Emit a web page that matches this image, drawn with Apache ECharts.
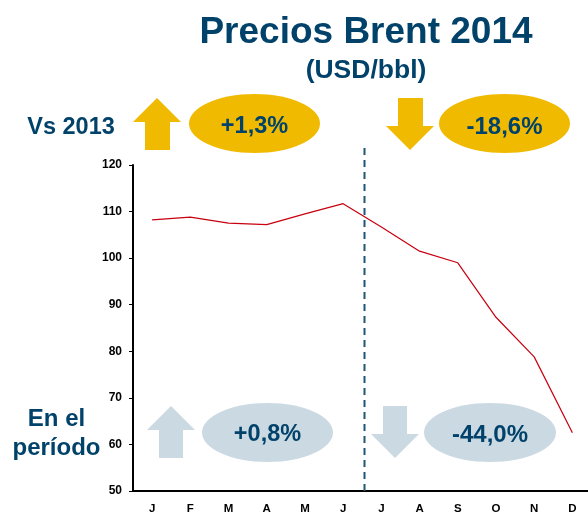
<!DOCTYPE html>
<html><head><meta charset="utf-8">
<style>html,body{margin:0;padding:0;background:#fff}#c{width:588px;height:512px}</style>
<script src="https://cdn.jsdelivr.net/npm/echarts@6/dist/echarts.min.js"></script>
</head><body><div id="c"></div>
<script>
const months = ['J','F','M','A','M','J','J','A','S','O','N','D'];
const brent = [108.2,108.8,107.5,107.2,109.5,111.7,106.7,101.5,99.0,87.3,78.8,62.5];
const yTicks = {min:50,max:120,interval:10};
const NAVY='#00426A', GOLD='#F0BA00', PALE='#CBD9E3', FF='"Liberation Sans",Arial,sans-serif';
const chart = echarts.init(document.getElementById('c'),null,{renderer:'canvas'});
function txt(x,y,text,size,lh){return {type:'text',z:10,style:{x,y,text,fill:NAVY,font:'bold '+size+'px '+FF,align:'center',verticalAlign:'middle',lineHeight:lh||size+6}};}
function ell(cx,cy,rx,ry,fill){return {type:'ellipse',z:5,shape:{cx,cy,rx,ry},style:{fill}};}
function arrow(points,fill){return {type:'polygon',z:5,shape:{points},style:{fill}};}
chart.setOption({
  animation:false,
  grid:{left:133,top:165,width:458.5,height:326,containLabel:false,outerBoundsMode:'none'},
  xAxis:{type:'category',data:months,boundaryGap:true,
    axisLine:{onZero:false,lineStyle:{color:'#000',width:2}},
    axisTick:{alignWithLabel:false,length:4,lineStyle:{color:'#000',width:1}},
    axisLabel:{interval:0,color:'#000',fontFamily:FF,fontWeight:'bold',fontSize:11.5,margin:12}},
  yAxis:{type:'value',min:yTicks.min,max:yTicks.max,interval:yTicks.interval,
    axisLine:{show:true,lineStyle:{color:'#000',width:2}},
    axisTick:{show:true,length:4,inside:false,lineStyle:{color:'#000',width:1}},
    splitLine:{show:false},
    axisLabel:{color:'#000',fontFamily:FF,fontWeight:'bold',fontSize:12,margin:11}},
  series:[{type:'line',data:brent,symbol:'none',smooth:false,lineStyle:{color:'#C8000F',width:1.2}}],
  graphic:[
    txt(366,33,'Precios Brent 2014',37),
    txt(366,71,'(USD/bbl)',26.5),
    txt(71,128,'Vs 2013',23.5),
    txt(56.5,434,'En el\nperíodo',24,29),
    arrow([[157,98],[181,122],[170,122],[170,150],[145,150],[145,122],[133,122]],GOLD),
    ell(254.5,123.5,65.5,29.5,GOLD),
    txt(254.5,127,'+1,3%',23.5),
    arrow([[398,98],[423,98],[423,126],[434,126],[410,150],[386,126],[398,126]],GOLD),
    ell(504.5,123.5,65.5,29.5,GOLD),
    txt(504.5,127,'-18,6%',24),
    {type:'line',z:6,shape:{x1:364.5,y1:148,x2:364.5,y2:491},style:{stroke:'#1F5578',lineWidth:2,lineDash:[7,5]}},
    arrow([[171,406],[195,430],[183,430],[183,458],[159,458],[159,430],[147,430]],PALE),
    ell(267.5,432.5,65.5,29.5,PALE),
    txt(267.5,435,'+0,8%',23.5),
    arrow([[383,406],[407,406],[407,434],[419,434],[395,458],[371,434],[383,434]],PALE),
    ell(490,432.5,66,29.5,PALE),
    txt(490,435,'-44,0%',24)
  ]
});
</script></body></html>
